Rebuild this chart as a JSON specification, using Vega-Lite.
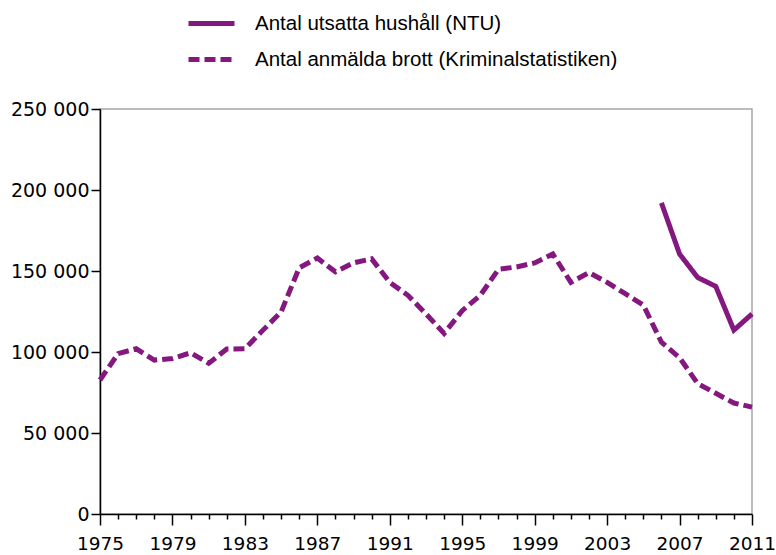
{
  "$schema": "https://vega.github.io/schema/vega-lite/v6.json",
  "autosize": {"type": "none"},
  "padding": {"left": 100, "top": 109, "right": 24, "bottom": 41},
  "width": 652,
  "height": 405,
  "config": {
    "view": {"stroke": "#a6a6a6", "strokeWidth": 1.5},
    "font": "DejaVu Sans"
  },
  "data": {
    "values": [
      {"year": 1975, "series": "Antal anmälda brott (Kriminalstatistiken)", "value": 82700},
      {"year": 1976, "series": "Antal anmälda brott (Kriminalstatistiken)", "value": 99000},
      {"year": 1977, "series": "Antal anmälda brott (Kriminalstatistiken)", "value": 102000},
      {"year": 1978, "series": "Antal anmälda brott (Kriminalstatistiken)", "value": 95000},
      {"year": 1979, "series": "Antal anmälda brott (Kriminalstatistiken)", "value": 96000},
      {"year": 1980, "series": "Antal anmälda brott (Kriminalstatistiken)", "value": 99500},
      {"year": 1981, "series": "Antal anmälda brott (Kriminalstatistiken)", "value": 93000},
      {"year": 1982, "series": "Antal anmälda brott (Kriminalstatistiken)", "value": 101800},
      {"year": 1983, "series": "Antal anmälda brott (Kriminalstatistiken)", "value": 102000},
      {"year": 1984, "series": "Antal anmälda brott (Kriminalstatistiken)", "value": 113500},
      {"year": 1985, "series": "Antal anmälda brott (Kriminalstatistiken)", "value": 124700},
      {"year": 1986, "series": "Antal anmälda brott (Kriminalstatistiken)", "value": 152000},
      {"year": 1987, "series": "Antal anmälda brott (Kriminalstatistiken)", "value": 158000},
      {"year": 1988, "series": "Antal anmälda brott (Kriminalstatistiken)", "value": 149500},
      {"year": 1989, "series": "Antal anmälda brott (Kriminalstatistiken)", "value": 155000},
      {"year": 1990, "series": "Antal anmälda brott (Kriminalstatistiken)", "value": 157500},
      {"year": 1991, "series": "Antal anmälda brott (Kriminalstatistiken)", "value": 143000},
      {"year": 1992, "series": "Antal anmälda brott (Kriminalstatistiken)", "value": 135000},
      {"year": 1993, "series": "Antal anmälda brott (Kriminalstatistiken)", "value": 123500},
      {"year": 1994, "series": "Antal anmälda brott (Kriminalstatistiken)", "value": 111500},
      {"year": 1995, "series": "Antal anmälda brott (Kriminalstatistiken)", "value": 125500},
      {"year": 1996, "series": "Antal anmälda brott (Kriminalstatistiken)", "value": 135000},
      {"year": 1997, "series": "Antal anmälda brott (Kriminalstatistiken)", "value": 151000},
      {"year": 1998, "series": "Antal anmälda brott (Kriminalstatistiken)", "value": 152500},
      {"year": 1999, "series": "Antal anmälda brott (Kriminalstatistiken)", "value": 155000},
      {"year": 2000, "series": "Antal anmälda brott (Kriminalstatistiken)", "value": 160500},
      {"year": 2001, "series": "Antal anmälda brott (Kriminalstatistiken)", "value": 143000},
      {"year": 2002, "series": "Antal anmälda brott (Kriminalstatistiken)", "value": 149000},
      {"year": 2003, "series": "Antal anmälda brott (Kriminalstatistiken)", "value": 143000},
      {"year": 2004, "series": "Antal anmälda brott (Kriminalstatistiken)", "value": 136000},
      {"year": 2005, "series": "Antal anmälda brott (Kriminalstatistiken)", "value": 129000},
      {"year": 2006, "series": "Antal anmälda brott (Kriminalstatistiken)", "value": 106000},
      {"year": 2007, "series": "Antal anmälda brott (Kriminalstatistiken)", "value": 96500},
      {"year": 2008, "series": "Antal anmälda brott (Kriminalstatistiken)", "value": 80500},
      {"year": 2009, "series": "Antal anmälda brott (Kriminalstatistiken)", "value": 74500},
      {"year": 2010, "series": "Antal anmälda brott (Kriminalstatistiken)", "value": 68500},
      {"year": 2011, "series": "Antal anmälda brott (Kriminalstatistiken)", "value": 66000},
      {"year": 2006, "series": "Antal utsatta hushåll (NTU)", "value": 192000},
      {"year": 2007, "series": "Antal utsatta hushåll (NTU)", "value": 160500},
      {"year": 2008, "series": "Antal utsatta hushåll (NTU)", "value": 146000},
      {"year": 2009, "series": "Antal utsatta hushåll (NTU)", "value": 140500},
      {"year": 2010, "series": "Antal utsatta hushåll (NTU)", "value": 113500},
      {"year": 2011, "series": "Antal utsatta hushåll (NTU)", "value": 123500}
    ]
  },
  "mark": {"type": "line", "color": "#84187f", "strokeWidth": 5, "strokeCap": "butt", "strokeJoin": "miter"},
  "encoding": {
    "x": {
      "field": "year",
      "type": "quantitative",
      "scale": {"domain": [1975, 2011], "nice": false, "zero": false},
      "axis": {
        "title": null,
        "grid": false,
        "values": [1975,1976,1977,1978,1979,1980,1981,1982,1983,1984,1985,1986,1987,1988,1989,1990,1991,1992,1993,1994,1995,1996,1997,1998,1999,2000,2001,2002,2003,2004,2005,2006,2007,2008,2009,2010,2011],
        "labelExpr": "datum.value % 4 == 3 ? datum.value + '' : ''",
        "tickSize": {"condition": {"test": "datum.value % 4 == 3", "value": 11}, "value": 5},
        "tickColor": "#000000",
        "tickWidth": 1.5,
        "domainColor": "#000000",
        "domainWidth": 1.5,
        "labelFont": "DejaVu Sans",
        "labelFontSize": 18.5,
        "labelColor": "#000000",
        "labelPadding": 9,
        "labelFlush": false,
        "labelOverlap": false
      }
    },
    "y": {
      "field": "value",
      "type": "quantitative",
      "scale": {"domain": [0, 250000], "nice": false},
      "axis": {
        "title": null,
        "grid": false,
        "values": [0, 50000, 100000, 150000, 200000, 250000],
        "labelExpr": "replace(format(datum.value, ','), ',', ' ')",
        "tickSize": 9,
        "tickColor": "#000000",
        "tickWidth": 1.5,
        "domainColor": "#000000",
        "domainWidth": 1.5,
        "labelFont": "DejaVu Sans",
        "labelFontSize": 19,
        "labelColor": "#000000",
        "labelPadding": 2
      }
    },
    "strokeDash": {
      "field": "series",
      "type": "nominal",
      "scale": {
        "domain": ["Antal utsatta hushåll (NTU)", "Antal anmälda brott (Kriminalstatistiken)"],
        "range": [[1, 0], [11, 5]]
      },
      "legend": {
        "title": null,
        "orient": "none",
        "legendX": 86,
        "legendY": -111,
        "padding": 0,
        "symbolType": "stroke",
        "symbolSize": 2116,
        "symbolStrokeWidth": 5,
        "symbolStrokeColor": "#84187f",
        "labelFont": "Liberation Sans",
        "labelFontSize": 20.5,
        "labelColor": "#000000",
        "labelOffset": 18,
        "rowPadding": 0,
        "labelLimit": 600
      }
    }
  }
}
